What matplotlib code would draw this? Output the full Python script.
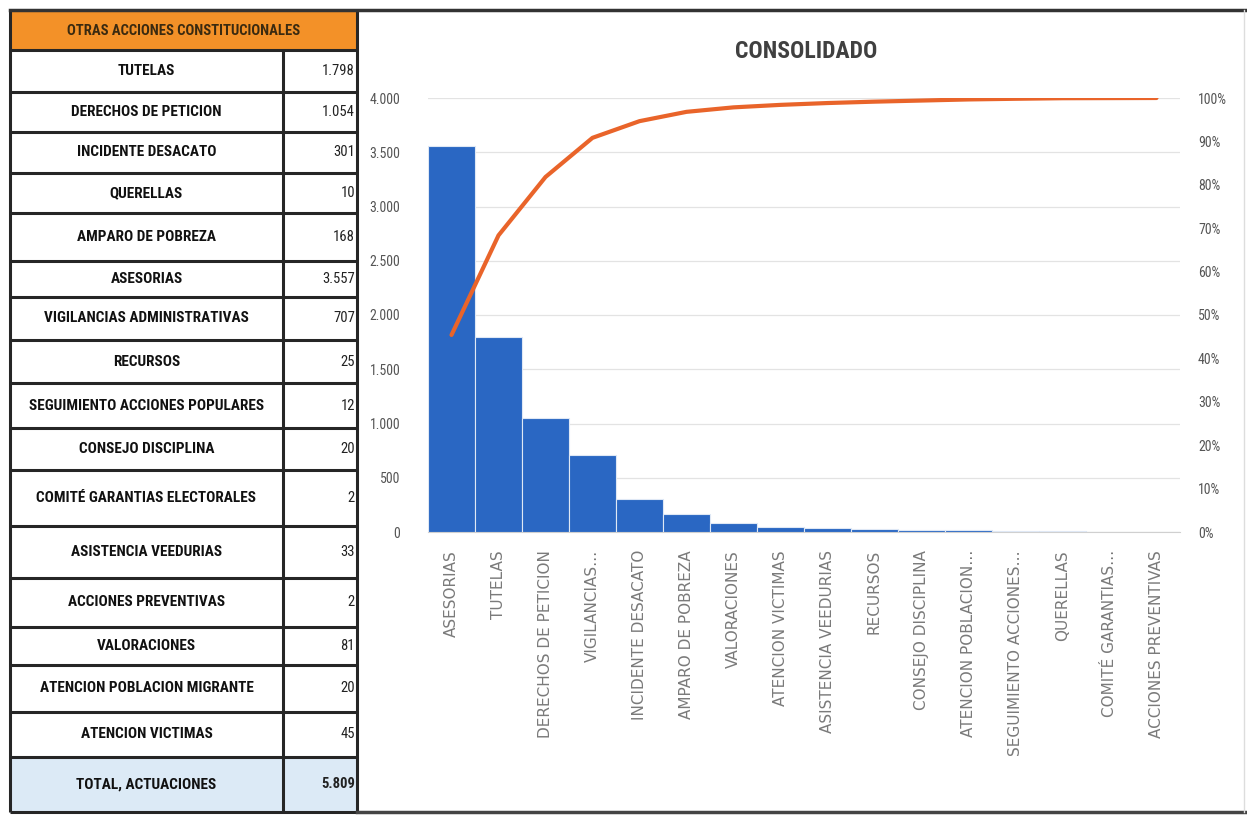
import matplotlib
import matplotlib.pyplot as plt
from matplotlib import font_manager
from matplotlib.patches import Rectangle
from matplotlib.ticker import FuncFormatter, MultipleLocator

matplotlib.use("Agg")

# Summary table (order as listed in the sheet)
table_names = [
    "TUTELAS", "DERECHOS DE PETICION", "INCIDENTE DESACATO", "QUERELLAS",
    "AMPARO DE POBREZA", "ASESORIAS", "VIGILANCIAS ADMINISTRATIVAS", "RECURSOS",
    "SEGUIMIENTO ACCIONES POPULARES", "CONSEJO DISCIPLINA",
    "COMITÉ GARANTIAS ELECTORALES", "ASISTENCIA VEEDURIAS", "ACCIONES PREVENTIVAS",
    "VALORACIONES", "ATENCION POBLACION MIGRANTE", "ATENCION VICTIMAS",
]
table_values = [1798, 1054, 301, 10, 168, 3557, 707, 25, 12, 20, 2, 33, 2, 81, 20, 45]
table_total_label = "5.809"

# Pareto chart, sorted descending
pareto_labels = [
    "ASESORIAS", "TUTELAS", "DERECHOS DE PETICION", "VIGILANCIAS…",
    "INCIDENTE DESACATO", "AMPARO DE POBREZA", "VALORACIONES", "ATENCION VICTIMAS",
    "ASISTENCIA VEEDURIAS", "RECURSOS", "CONSEJO DISCIPLINA", "ATENCION POBLACION…",
    "SEGUIMIENTO ACCIONES…", "QUERELLAS", "COMITÉ GARANTIAS…", "ACCIONES PREVENTIVAS",
]
pareto_values = [3557, 1798, 1054, 707, 301, 168, 81, 45, 33, 25, 20, 20, 12, 10, 2, 2]

W, H = 1247, 816


def pick_font(*names):
    installed = {f.name for f in font_manager.fontManager.ttflist}
    for n in names:
        if n in installed:
            return n
    return "DejaVu Sans"


NARROW = pick_font("Liberation Sans Narrow", "Roboto Condensed", "Open Sans Condensed", "Liberation Sans")
WIDE = "DejaVu Sans"


def fmt_thousands(v):
    return f"{int(round(v)):,}".replace(",", ".")


fig = plt.figure(figsize=(W / 100, H / 100), dpi=100)
fig.patch.set_facecolor("white")

# pixel-space layer for the table and frame
bg = fig.add_axes([0, 0, 1, 1])
bg.set_xlim(0, W)
bg.set_ylim(H, 0)
bg.axis("off")

x0, x_mid, x1 = 10, 283, 357
line_kw = dict(color="#262626", lw=2.2, solid_capstyle="butt")

# header row
bg.add_patch(Rectangle((x0, 12), x1 - x0, 38, facecolor="#F39128", edgecolor="none"))
bg.text((x0 + x1) / 2, 31, "OTRAS ACCIONES CONSTITUCIONALES", ha="center", va="center",
        fontsize=10.5, fontweight="bold", family=NARROW, color="#3a2a10")

row_edges = [50, 92, 132, 173, 213, 261, 297, 340, 383, 428, 470, 526, 578, 627, 665, 712, 757, 812]
rows = list(zip(table_names, [fmt_thousands(v) for v in table_values]))
rows.append(("TOTAL, ACTUACIONES", table_total_label))

for i, (name, val) in enumerate(rows):
    top, bot = row_edges[i], row_edges[i + 1]
    is_total = i == len(rows) - 1
    if is_total:
        bg.add_patch(Rectangle((x0, top), x1 - x0, bot - top, facecolor="#DCEAF6", edgecolor="none"))
    cy = (top + bot) / 2
    bg.text((x0 + x_mid) / 2, cy, name, ha="center", va="center", fontsize=11,
            fontweight="bold", family=NARROW, color="#111111")
    bg.text(x1 - 2, cy, val, ha="right", va="center", fontsize=10.5,
            fontweight="bold" if is_total else "normal", family=NARROW, color="#222222")
    bg.plot([x0, x1], [top, top], **line_kw)

bg.plot([x0, x1], [812, 812], **line_kw)
bg.plot([x0, x0], [10, 812], **line_kw)
bg.plot([x_mid, x_mid], [50, 812], **line_kw)
bg.plot([x1, x1], [10, 812], **line_kw)
# outer frame of the sheet
bg.plot([x0, W], [10, 10], color="#333333", lw=2.5)
bg.plot([x1, W], [812, 812], color="#444444", lw=2.5)
bg.plot([W - 3, W - 3], [10, 812], color="#dddddd", lw=1)

bg.text(806, 52, "CONSOLIDADO", ha="center", va="center", fontsize=17,
        fontweight="bold", family=NARROW, color="#404040")

# Pareto chart
left_px, right_px, top_px, bot_px = 428, 1180, 98, 532
ax = fig.add_axes([left_px / W, 1 - bot_px / H, (right_px - left_px) / W, (bot_px - top_px) / H])
ax.set_facecolor("none")

xs = list(range(len(pareto_values)))
ax.bar(xs, pareto_values, width=1.0, color="#2A67C3", edgecolor="#dfe8f5", linewidth=0.8, zorder=3)
ax.set_xlim(-0.5, len(xs) - 0.5)
ax.set_ylim(0, 4000)
ax.yaxis.set_major_locator(MultipleLocator(500))
ax.yaxis.set_major_formatter(FuncFormatter(lambda v, _: fmt_thousands(v)))
ax.grid(axis="y", color="#e3e3e3", lw=0.9, zorder=0)
for s in ["top", "left", "right"]:
    ax.spines[s].set_visible(False)
ax.spines["bottom"].set_color("#d0d0d0")
ax.tick_params(axis="y", length=0, pad=20, labelsize=10, labelcolor="#555555")
for t in ax.get_yticklabels():
    t.set_family(NARROW)
ax.set_xticks(xs)
ax.set_xticklabels(pareto_labels, rotation=90, va="top", ha="center",
                   fontsize=11, color="#7a7a7a", family=WIDE)
ax.tick_params(axis="x", length=0, pad=13)

total = sum(pareto_values)
cum = []
running = 0
for v in pareto_values:
    running += v
    cum.append(running / total)

ax2 = ax.twinx()
ax2.plot(xs, cum, color="#E9642A", lw=3, solid_capstyle="round", zorder=4)
ax2.set_ylim(0, 1)
ax2.yaxis.set_major_locator(MultipleLocator(0.1))
ax2.yaxis.set_major_formatter(FuncFormatter(lambda v, _: f"{v * 100:.0f}%"))
for s in ax2.spines.values():
    s.set_visible(False)
ax2.tick_params(axis="y", length=0, pad=13, labelsize=10, labelcolor="#555555")
for t in ax2.get_yticklabels():
    t.set_family(NARROW)

fig.savefig("out.png", dpi=100)
